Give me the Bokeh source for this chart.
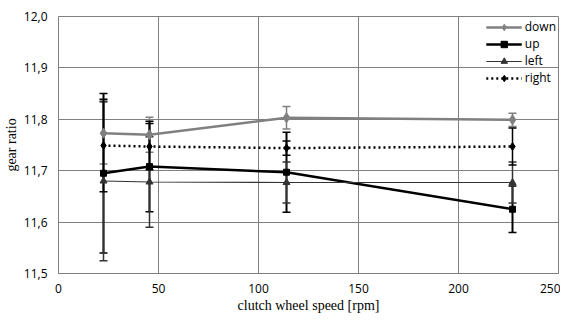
from bokeh.plotting import figure
from bokeh.models import (ColumnDataSource, Whisker, TeeHead, Legend, LegendItem,
                          FixedTicker, Range1d)
from bokeh.embed import file_html
from bokeh.resources import INLINE

speed = [22.5, 45.5, 114, 227]
down = [11.773, 11.770, 11.803, 11.799]
down_err = [0.060, 0.034, 0.022, 0.013]
up = [11.695, 11.708, 11.697, 11.625]
up_err = [0.155, 0.088, 0.078, 0.045]
left = [11.680, 11.678, 11.677, 11.677]
left_err = [0.155, 0.088, 0.040, 0.040]
right = [11.749, 11.747, 11.744, 11.747]
right_err = [0.090, 0.045, 0.014, 0.036]

x_ticks = [0, 50, 100, 150, 200, 250]
y_ticks = [11.5, 11.6, 11.7, 11.8, 11.9, 12.0]
y_tick_labels = ["11,5", "11,6", "11,7", "11,8", "11,9", "12,0"]

p = figure(width=560, height=315, output_backend="svg", toolbar_location=None,
           x_range=Range1d(0, 250), y_range=Range1d(11.5, 12.0),
           min_border_left=54, min_border_right=2, min_border_top=16, min_border_bottom=38)
p.background_fill_color = "white"
p.outline_line_color = "#808080"
p.outline_line_width = 1

p.xaxis.ticker = FixedTicker(ticks=x_ticks)
p.yaxis.ticker = FixedTicker(ticks=y_ticks)
p.yaxis.major_label_overrides = {t: l for t, l in zip(y_ticks, y_tick_labels)}
p.xaxis.major_label_overrides = {t: str(t) for t in x_ticks}
for ax in (p.xaxis, p.yaxis):
    ax.axis_line_color = "#808080"
    ax.major_tick_in = 0
    ax.major_tick_out = 0
    ax.minor_tick_in = 0
    ax.minor_tick_out = 0
    ax.major_label_text_font = "Open Sans"
    ax.major_label_text_font_size = "12px"
    ax.major_label_text_color = "#000000"
    ax.axis_label_text_font = "Liberation Serif"
    ax.axis_label_text_font_size = "14px"
    ax.axis_label_text_font_style = "normal"
    ax.axis_label_text_color = "#000000"
p.xaxis.axis_label = "clutch wheel speed [rpm]"
p.yaxis.axis_label = "gear ratio"
p.yaxis.major_label_standoff = 11
p.yaxis.axis_label_standoff = 2
p.xaxis.major_label_standoff = 10
p.xaxis.axis_label_standoff = 2

p.xgrid.grid_line_color = "#808080"
p.ygrid.grid_line_color = "#808080"
p.xgrid.grid_line_width = 1
p.ygrid.grid_line_width = 1

series = [
    ("down", down, down_err, "#808080", 2.5, "solid", "diamond", 10),
    ("up", up, up_err, "#000000", 2.5, "solid", "square", 6),
    ("left", left, left_err, "#333333", 1.2, "solid", "triangle", 7),
    ("right", right, right_err, "#000000", 2.5, "2 3", "diamond", 8),
]

items = []
for name, vals, errs, color, lw, dash, marker, size in series:
    src = ColumnDataSource(dict(x=speed, y=vals,
                                lo=[v - e for v, e in zip(vals, errs)],
                                hi=[v + e for v, e in zip(vals, errs)]))
    w = Whisker(source=src, base="x", upper="hi", lower="lo", dimension="height",
                line_color=color, line_width=1.5 if name != "up" else 2,
                upper_head=TeeHead(size=8, line_color=color, line_width=1.5),
                lower_head=TeeHead(size=8, line_color=color, line_width=1.5))
    p.add_layout(w)
    ln = p.line("x", "y", source=src, line_color=color, line_width=lw, line_dash=dash)
    sc = p.scatter("x", "y", source=src, marker=marker, size=size,
                   fill_color=color, line_color=color)
    items.append(LegendItem(label=name, renderers=[ln, sc]))

legend = Legend(items=items, location="top_right")
legend.border_line_color = None
legend.background_fill_alpha = 0
legend.glyph_width = 36
legend.glyph_height = 16
legend.label_height = 16
legend.spacing = 0
legend.padding = 3
legend.margin = 2
legend.label_standoff = 3
legend.label_text_font = "Open Sans"
legend.label_text_font_size = "12px"
legend.label_text_color = "#000000"
legend.label_text_baseline = "middle"
p.add_layout(legend)

open("out.html", "w").write(file_html(p, INLINE))
